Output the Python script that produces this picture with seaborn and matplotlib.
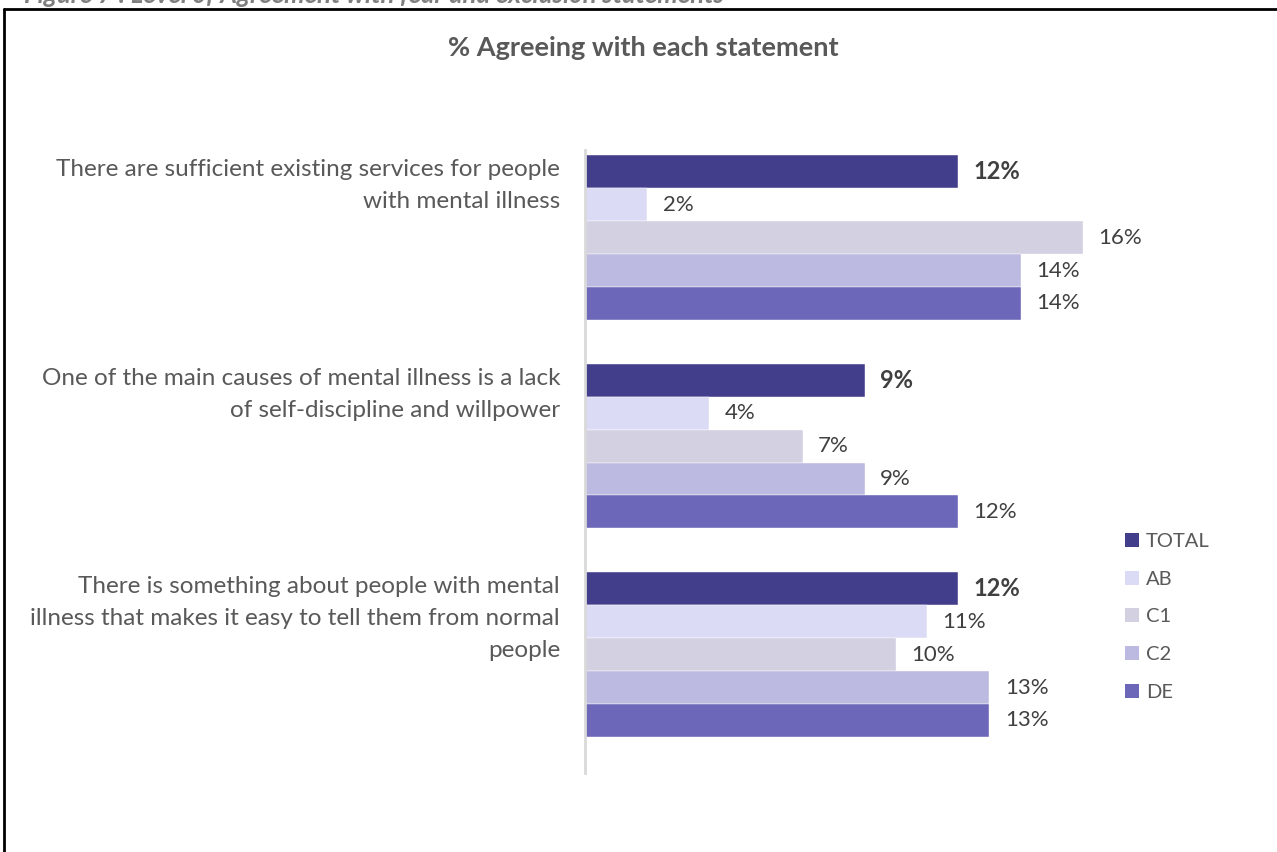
import matplotlib
matplotlib.use("Agg")
import matplotlib.pyplot as plt
from matplotlib.lines import Line2D
from matplotlib.patches import Patch
import pandas as pd
import seaborn as sns

# ---- data -------------------------------------------------------------
statements = [
    "There are sufficient existing services for people\nwith mental illness",
    "One of the main causes of mental illness is a lack\nof self-discipline and willpower",
    "There is something about people with mental\nillness that makes it easy to tell them from normal\npeople",
]
groups = ["TOTAL", "AB", "C1", "C2", "DE"]
total = [12, 9, 12]
ab = [2, 4, 11]
c1 = [16, 7, 10]
c2 = [14, 9, 13]
de = [14, 12, 13]

title = "% Agreeing with each statement"
caption = "Figure 7 : Level of Agreement with fear and exclusion statements"

colors = ["#433E8C", "#DCDBF5", "#D3D0E1", "#BCBAE0", "#6C67B8"]

# ---- long-form table ---------------------------------------------------
series = dict(zip(groups, [total, ab, c1, c2, de]))
rows = []
for g in groups:
    for s, v in zip(statements, series[g]):
        rows.append({"statement": s, "group": g, "value": v})
df = pd.DataFrame(rows)

sns.set_theme(style="white")
FONT = ["Lato", "DejaVu Sans"]
plt.rcParams["font.family"] = FONT

W, H = 1277, 852
fig = plt.figure(figsize=(W / 100, H / 100), dpi=100)
fig.patch.set_facecolor("white")

def fx(px):
    return px / W

def fy(py):
    return 1 - py / H

ax = fig.add_axes([fx(585), fy(773), fx(1145) - fx(585), fy(150) - fy(773)])

sns.barplot(
    data=df, y="statement", x="value", hue="group", orient="h",
    hue_order=groups, order=statements, palette=colors, saturation=1,
    width=0.79, dodge=True, ax=ax, legend=False,
    edgecolor="#FFFFFF", linewidth=0.3, errorbar=None,
)

ax.set_xlim(0, 18)
ax.set_ylim(2.568, -0.42)
ax.set_xlabel("")
ax.set_ylabel("")
ax.set_xticks([])
ax.set_yticks([])
for side in ["top", "right", "bottom"]:
    ax.spines[side].set_visible(False)
ax.spines["left"].set_color("#D9D9D9")
ax.spines["left"].set_linewidth(2)
ax.set_facecolor("white")

# value labels
for g, cont in zip(groups, ax.containers):
    vals = series[g]
    bold = g == "TOTAL"
    ax.bar_label(
        cont, labels=[f"{v}%" for v in vals], padding=11,
        fontsize=17 if bold else 16, fontweight="bold" if bold else "normal",
        color="#404040",
    )

# category labels, aligned to the top of each bar group
trans = matplotlib.transforms.blended_transform_factory(fig.transFigure, ax.transData)
for i, s in enumerate(statements):
    ax.text(fx(560), i - 0.79 / 2 + 0.02, s, transform=trans, ha="right", va="top",
            fontsize=17.5, color="#595959", linespacing=1.65)

# title
fig.text(fx(643), fy(48), title, ha="center", va="center",
         fontsize=19.5, fontweight="bold", color="#595959")

# caption (cut by the top edge)
fig.text(fx(24), fy(3), caption, ha="left", va="baseline",
         fontsize=18.5, fontweight="bold", fontstyle="italic", color="#7F7F7F")

# frame
fig.add_artist(Line2D([fx(4), 1.0], [fy(9), fy(9)], color="black", lw=2,
                      transform=fig.transFigure))
fig.add_artist(Line2D([fx(4), fx(4)], [fy(9), 0.0], color="black", lw=2,
                      transform=fig.transFigure))

# legend
handles = [Patch(facecolor=c, edgecolor="none", label=g) for g, c in zip(groups, colors)]
fig.legend(handles=handles, loc="upper left", bbox_to_anchor=(fx(1125), fy(533)),
           frameon=False, fontsize=14.5, handlelength=0.7, handleheight=0.7,
           handletextpad=0.35, labelspacing=1.02, borderaxespad=0, borderpad=0,
           labelcolor="#595959")

fig.savefig("out.png", dpi=100, facecolor="white")
